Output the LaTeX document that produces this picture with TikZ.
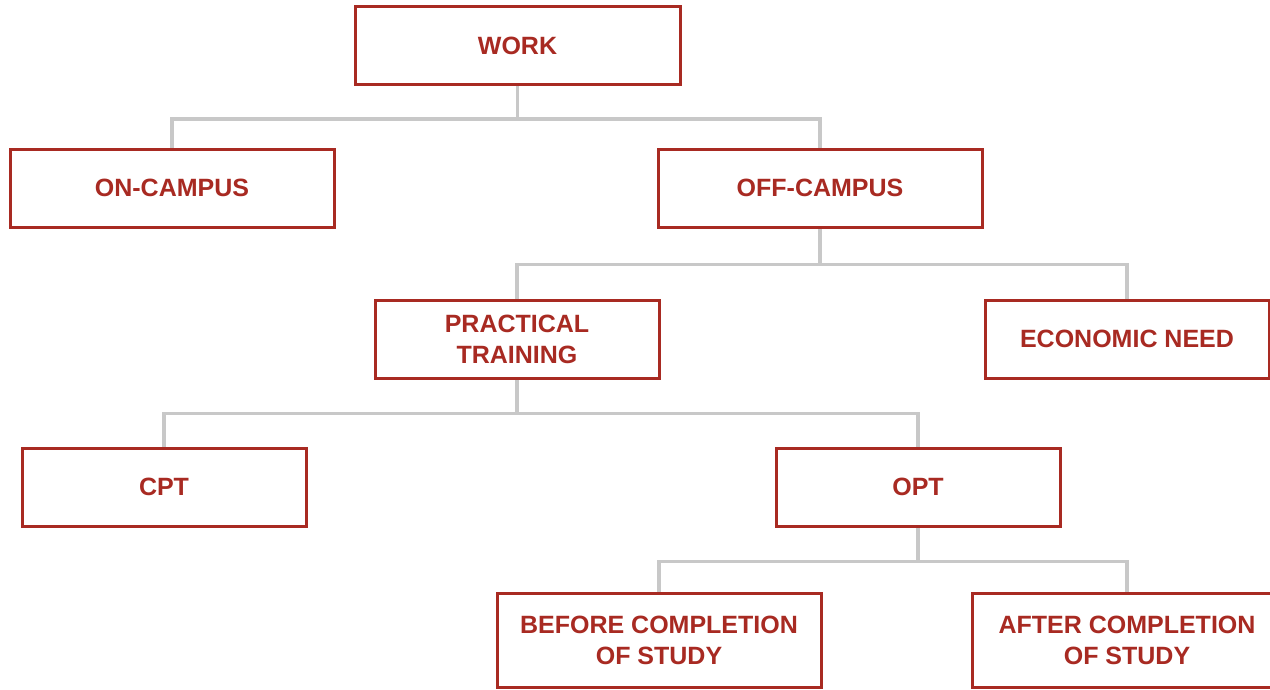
\documentclass[tikz,border=0pt]{standalone}
\usepackage{fontspec}
\setmainfont{Liberation Sans}
\usetikzlibrary{backgrounds}
\definecolor{boxred}{HTML}{A82A22}
\definecolor{linegray}{HTML}{C8C8C8}
\begin{document}
\begin{tikzpicture}[x=1pt,y=-1pt,
  box/.style={draw=boxred,line width=3pt,fill=white,text=boxred,
    font=\fontsize{25}{31}\selectfont\bfseries,align=center,inner sep=0pt,
    minimum height=78pt},
  conn/.style={draw=linegray,line width=3.5pt}]
\useasboundingbox (0,0) rectangle (1270,689);
\clip (0,0) rectangle (1270,689);
% nodes
\node[box,minimum width=325pt] (work) at (517.5,45.5) {WORK};
\node[box,minimum width=324pt] (on) at (172,188) {ON-CAMPUS};
\node[box,minimum width=324pt] (off) at (820,188) {OFF-CAMPUS};
\node[box,minimum width=284pt] (pt) at (517,339) {PRACTICAL\\TRAINING};
\node[box,minimum width=284pt] (econ) at (1127,339) {ECONOMIC NEED};
\node[box,minimum width=284pt] (cpt) at (164,487) {CPT};
\node[box,minimum width=284pt] (opt) at (918,487) {OPT};
\node[box,minimum width=324pt,minimum height=94pt] (before) at (659,640) {BEFORE COMPLETION\\OF STUDY};
\node[box,minimum width=310pt,minimum height=94pt] (after) at (1127,640) {AFTER COMPLETION\\OF STUDY};
% connectors
\begin{scope}[on background layer]
\path[conn] (work.south) -- ++(0,33) -| (on.north);
\path[conn] (work.south) ++(0,33) -| (off.north);
\path[conn] (off.south) -- ++(0,36) -| (pt.north);
\path[conn] (off.south) ++(0,36) -| (econ.north);
\path[conn] (pt.south) -- ++(0,34) -| (cpt.north);
\path[conn] (pt.south) ++(0,34) -| (opt.north);
\path[conn] (opt.south) -- ++(0,34) -| (before.north);
\path[conn] (opt.south) ++(0,34) -| (after.north);
\end{scope}
\end{tikzpicture}
\end{document}
